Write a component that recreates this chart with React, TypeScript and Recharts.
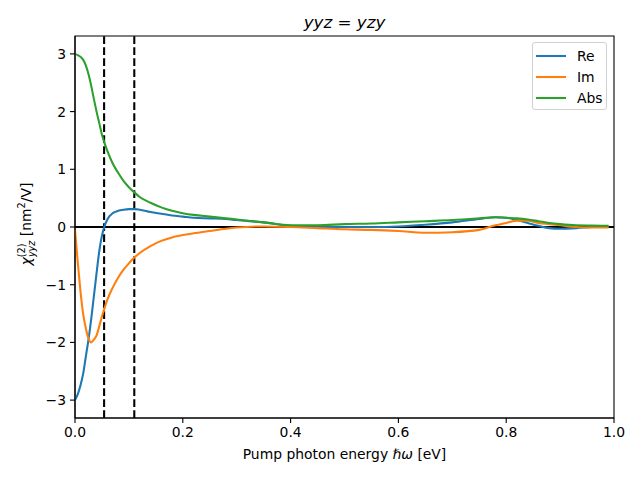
import { LineChart, Line, XAxis, YAxis, ReferenceLine, ReferenceArea, Legend } from "recharts"

// pump photon energy [eV]
const energy = [
  0, 0.005, 0.01, 0.015, 0.02, 0.025, 0.03, 0.035, 0.04, 0.045, 0.05, 0.055, 0.06, 0.07, 0.08, 0.09, 0.1, 0.11,
  0.12, 0.14, 0.16, 0.18, 0.2, 0.22, 0.25, 0.28, 0.3, 0.35, 0.4, 0.45, 0.5, 0.55, 0.6, 0.65, 0.7, 0.75, 0.78, 0.8,
  0.82, 0.84, 0.86, 0.88, 0.9, 0.93, 0.96, 0.99,
]

const reValues = [
  -3.0, -2.9, -2.75, -2.55, -2.25, -1.95, -1.6, -1.2, -0.8, -0.42, -0.15, 0.02, 0.13, 0.24, 0.28, 0.3, 0.31, 0.31,
  0.3, 0.26, 0.23, 0.2, 0.18, 0.16, 0.15, 0.14, 0.12, 0.08, 0.02, 0.0, 0.0, 0.0, 0.01, 0.04, 0.08, 0.14, 0.17, 0.16,
  0.12, 0.07, 0.02, -0.02, -0.03, -0.02, 0.0, 0.01,
]

const imValues = [
  -0.05, -0.6, -1.1, -1.5, -1.75, -1.93, -2.0, -1.95, -1.88, -1.72, -1.55, -1.4, -1.26, -1.05, -0.88, -0.74, -0.63,
  -0.53, -0.45, -0.33, -0.24, -0.18, -0.14, -0.11, -0.07, -0.03, -0.01, 0.01, 0.0, -0.02, -0.04, -0.05, -0.07, -0.1,
  -0.09, -0.05, 0.03, 0.07, 0.11, 0.11, 0.07, 0.05, 0.03, 0.0, -0.01, -0.01,
]

const absValues = [
  3.0, 2.98, 2.95, 2.9, 2.8, 2.65, 2.45, 2.22, 2.0, 1.8, 1.6, 1.45, 1.32, 1.1, 0.94, 0.8, 0.69, 0.6, 0.52, 0.42,
  0.34, 0.28, 0.24, 0.21, 0.18, 0.15, 0.13, 0.08, 0.03, 0.03, 0.05, 0.06, 0.08, 0.1, 0.12, 0.15, 0.17, 0.16, 0.15,
  0.13, 0.1, 0.07, 0.05, 0.03, 0.025, 0.02,
]

const markers = [0.054, 0.11]
const xTicks = [0, 0.2, 0.4, 0.6, 0.8, 1.0]
const yTicks = [-3, -2, -1, 0, 1, 2, 3]

const series = [
  { key: "re", name: "Re", color: "#1f77b4" },
  { key: "im", name: "Im", color: "#ff7f0e" },
  { key: "abs", name: "Abs", color: "#2ca02c" },
]

const data = energy.map((e, i) => ({ e, re: reValues[i], im: imValues[i], abs: absValues[i] }))

const FONT = "DejaVu Sans, sans-serif"
const Y_MIN = -3.31
const Y_MAX = 3.31
const LW = 2.08 // 1.5pt at 100 dpi

const tickStyle = { fontFamily: FONT, fontSize: 13.9, fill: "#000" }

const LegendBox = () => (
  <div
    style={{
      width: 75,
      height: 68,
      boxSizing: "border-box",
      border: "1px solid #d0d0d0",
      borderRadius: 3,
      background: "rgba(255,255,255,0.8)",
      fontFamily: FONT,
      fontSize: 13.9,
      paddingTop: 2,
    }}
  >
    {series.map((s) => (
      <div key={s.key} style={{ display: "flex", alignItems: "center", height: 21 }}>
        <svg width={44} height={10} style={{ flex: "none" }}>
          <line x1={3} x2={33} y1={5} y2={5} stroke={s.color} strokeWidth={LW} />
        </svg>
        <span>{s.name}</span>
      </div>
    ))}
  </div>
)

export default function App() {
  return (
    <div style={{ position: "absolute", left: 0, top: 0, width: 640, height: 480, background: "#fff" }}>
      <LineChart width={640} height={480} data={data} margin={{ top: 36, right: 26, bottom: 0, left: 0 }}>
        <XAxis
          dataKey="e"
          type="number"
          domain={[0, 1]}
          ticks={xTicks}
          tickFormatter={(v: number) => v.toFixed(1)}
          height={62}
          tickSize={5}
          tickMargin={4}
          tick={tickStyle}
          stroke="#000"
          strokeWidth={1.1}
          interval={0}
        />
        <YAxis
          type="number"
          domain={[Y_MIN, Y_MAX]}
          allowDataOverflow
          ticks={yTicks}
          tickFormatter={(v: number) => String(v).replace("-", "\u2212")}
          width={75}
          tickSize={5}
          tickMargin={4}
          tick={tickStyle}
          stroke="#000"
          strokeWidth={1.1}
          interval={0}
        />
        <ReferenceArea x1={0} x2={1} y1={Y_MIN} y2={Y_MAX} fill="none" stroke="#000" strokeWidth={1.1} />
        <ReferenceLine y={0} stroke="#000" strokeWidth={LW} />
        {markers.map((m) => (
          <ReferenceLine key={m} x={m} stroke="#000" strokeWidth={LW} strokeDasharray="7.7 3.3" />
        ))}
        {series.map((s) => (
          <Line
            key={s.key}
            dataKey={s.key}
            name={s.name}
            type="monotone"
            stroke={s.color}
            strokeWidth={LW}
            dot={false}
            isAnimationActive={false}
          />
        ))}
        <Legend
          layout="vertical"
          align="center"
          verticalAlign="middle"
          content={() => <LegendBox />}
          wrapperStyle={{ position: "absolute", left: 532, top: 42, width: 75, height: 68 }}
        />
        <text x={344.5} y={28} textAnchor="middle" fontFamily={FONT} fontSize={16.7} fill="#000">
          <tspan fontStyle="italic">yyz</tspan>
          <tspan> = </tspan>
          <tspan fontStyle="italic">yzy</tspan>
        </text>
        <text x={344.5} y={459} textAnchor="middle" fontFamily={FONT} fontSize={13.9} fill="#000">
          Pump photon energy <tspan fontStyle="italic">ℏω</tspan> [eV]
        </text>
        <g transform="translate(31, 224) rotate(-90)">
          <text x={0} y={0} textAnchor="middle" fontFamily={FONT} fontSize={13.9} fill="#000">
            <tspan fontStyle="italic">χ</tspan>
            <tspan fontSize={9.7} dy={-6}>(2)</tspan>
            <tspan fontSize={9.7} fontStyle="italic" dx={-13.7} dy={10}>yyz</tspan>
            <tspan dy={-4}> [nm</tspan>
            <tspan fontSize={9.7} dy={-6}>2</tspan>
            <tspan dy={6}>/V]</tspan>
          </text>
        </g>
      </LineChart>
    </div>
  )
}
